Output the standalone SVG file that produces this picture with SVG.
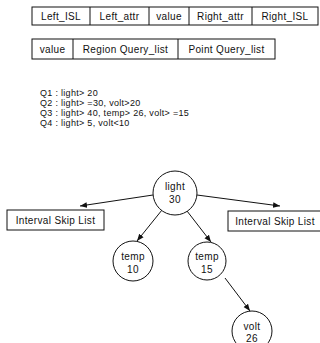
<svg xmlns="http://www.w3.org/2000/svg" width="320" height="343" viewBox="0 0 320 343">
<defs>
<style>
text{font-family:"Liberation Sans",Arial,sans-serif;font-size:10px;letter-spacing:0.35px;fill:#111}
.q{font-size:9px;letter-spacing:0.3px}
.c{text-anchor:middle}
.b{fill:#fff;stroke:#111;stroke-width:1}
.e{stroke:#111;stroke-width:1;fill:none}
</style>
<marker id="ah" viewBox="0 0 10 10" refX="10" refY="5" markerWidth="7" markerHeight="7" markerUnits="userSpaceOnUse" orient="auto">
<path d="M0,1 L10,5 L0,9 z" fill="#111"/>
</marker>
</defs>
<g id="record1">
<rect class="b" x="32" y="7" width="286" height="18"/>
<line class="e" x1="90" y1="7" x2="90" y2="25"/>
<line class="e" x1="149" y1="7" x2="149" y2="25"/>
<line class="e" x1="189" y1="7" x2="189" y2="25"/>
<line class="e" x1="252" y1="7" x2="252" y2="25"/>
<text class="c" x="61" y="19.5">Left_ISL</text>
<text class="c" x="119.5" y="19.5">Left_attr</text>
<text class="c" x="169" y="19.5">value</text>
<text class="c" x="220.5" y="19.5">Right_attr</text>
<text class="c" x="285" y="19.5">Right_ISL</text>
</g>
<g id="record2">
<rect class="b" x="32" y="39" width="243" height="20"/>
<line class="e" x1="73" y1="39" x2="73" y2="59"/>
<line class="e" x1="178" y1="39" x2="178" y2="59"/>
<text class="c" x="52.5" y="52.5">value</text>
<text class="c" x="125.5" y="52.5">Region Query_list</text>
<text class="c" x="226.5" y="52.5">Point Query_list</text>
</g>
<g id="queries">
<text class="q" x="40" y="96">Q1 : light&gt; 20</text>
<text class="q" x="40" y="106">Q2 : light&gt; =30, volt&gt;20</text>
<text class="q" x="40" y="116">Q3 : light&gt; 40, temp&gt; 26, volt&gt; =15</text>
<text class="q" x="40" y="126">Q4 : light&gt; 5, volt&lt;10</text>
</g>
<g id="connectors">
<line class="e" x1="153" y1="195" x2="80" y2="206" marker-end="url(#ah)"/>
<line class="e" x1="197" y1="195" x2="280" y2="206" marker-end="url(#ah)"/>
<line class="e" x1="162" y1="210" x2="137" y2="241" marker-end="url(#ah)"/>
<line class="e" x1="187" y1="211" x2="211" y2="242" marker-end="url(#ah)"/>
<line class="e" x1="225" y1="278" x2="250" y2="311" marker-end="url(#ah)"/>
</g>
<g id="isl-left">
<rect class="b" x="7" y="210" width="97" height="20"/>
<text class="c" x="55.5" y="223.5">Interval Skip List</text>
</g>
<g id="isl-right">
<rect class="b" x="228" y="211" width="96" height="20"/>
<text class="c" x="275" y="224.5">Interval Skip List</text>
</g>
<g id="n-light">
<circle class="b" cx="175" cy="193" r="22"/>
<text class="c" x="175" y="190">light</text>
<text class="c" x="175" y="203">30</text>
</g>
<g id="n-temp10">
<ellipse class="b" cx="133" cy="261" rx="20" ry="20"/>
<text class="c" x="133" y="260">temp</text>
<text class="c" x="133" y="273">10</text>
</g>
<g id="n-temp15">
<ellipse class="b" cx="207" cy="261" rx="19" ry="19"/>
<text class="c" x="207" y="260">temp</text>
<text class="c" x="207" y="273">15</text>
</g>
<g id="n-volt26">
<ellipse class="b" cx="252" cy="331" rx="20" ry="20"/>
<text class="c" x="252" y="330">volt</text>
<text class="c" x="252" y="342">26</text>
</g>
</svg>
